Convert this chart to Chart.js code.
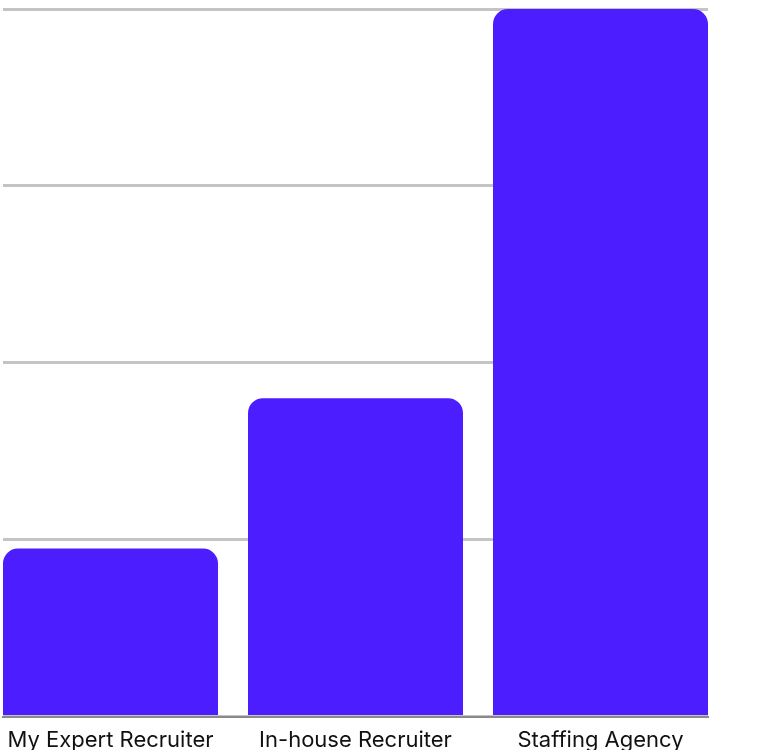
<!DOCTYPE html>
<html>
<head>
<meta charset="utf-8">
<script src="https://cdn.jsdelivr.net/npm/chart.js@4/dist/chart.umd.min.js"></script>
<style>
html,body{margin:0;padding:0;background:#fff;overflow:hidden;}
#wrap{width:768px;height:750px;position:relative;}
</style>
</head>
<body>
<div id="wrap"><canvas id="c"></canvas></div>
<script>
const categories = ["My Expert Recruiter", "In-house Recruiter", "Staffing Agency"];
const values = [9.5, 18, 40];
const yTicks = [0, 10, 20, 30, 40];

const points = values.map((v, i) => ({ x: i, y: v }));
const edge = 107.5 / 245;

new Chart(document.getElementById('c'), {
  type: 'bar',
  data: {
    datasets: [{
      data: points,
      backgroundColor: '#4B1DFF',
      borderRadius: 15,
      borderSkipped: 'start',
      categoryPercentage: 1,
      barPercentage: 215 / 245
    }]
  },
  options: {
    responsive: true,
    maintainAspectRatio: false,
    animation: false,
    layout: { padding: { left: 3, right: 60, top: 9, bottom: -15 } },
    plugins: { legend: { display: false }, tooltip: { enabled: false } },
    scales: {
      x: {
        type: 'linear',
        offset: false,
        min: -edge,
        max: categories.length - 1 + edge,
        afterBuildTicks: (axis) => { axis.ticks = categories.map((c, i) => ({ value: i })); },
        afterFit: (axis) => { axis.paddingLeft = 0; axis.paddingRight = 0; },
        grid: { display: false, drawTicks: false },
        border: { display: true, color: '#8a8a8a', width: 2 },
        ticks: {
          color: '#111',
          padding: 11,
          autoSkip: false,
          maxRotation: 0,
          font: { family: 'Inter', size: 22 },
          callback: (v) => categories[v]
        }
      },
      y: {
        min: yTicks[0],
        max: yTicks[yTicks.length - 1],
        afterBuildTicks: (axis) => { axis.ticks = yTicks.map(v => ({ value: v })); },
        grid: { color: '#c4c4c4', lineWidth: 3, drawTicks: false },
        border: { display: false },
        ticks: { display: false }
      }
    }
  }
});
</script>
</body>
</html>
